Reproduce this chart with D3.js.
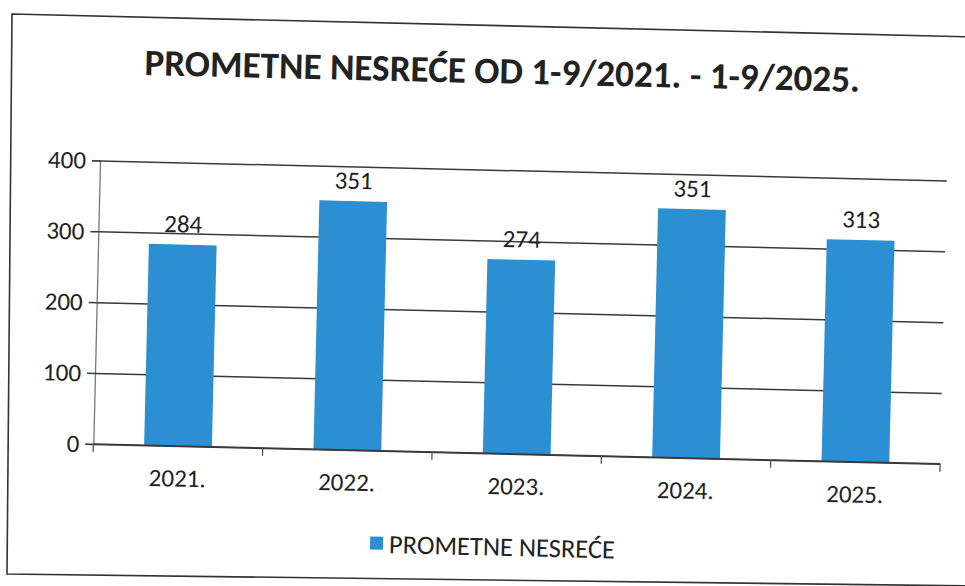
<!DOCTYPE html>
<html>
<head>
<meta charset="utf-8">
<script src="https://cdn.jsdelivr.net/npm/d3@7"></script>
<style>
  body { margin: 0; background: #fff; }
  svg { display: block; font-family: Carlito, Calibri, Lato, sans-serif; }
</style>
</head>
<body>
<svg id="chart" width="965" height="586"></svg>
<script>
// data
const years = ["2021.", "2022.", "2023.", "2024.", "2025."];
const accidents = [284, 351, 274, 351, 313];
const yTicks = [0, 100, 200, 300, 400];
const titleText = "PROMETNE NESREĆE OD 1-9/2021. - 1-9/2025.";
const seriesName = "PROMETNE NESREĆE";

const blue = "#2b8fd1";
const gridColor = "#3a3a3a";
const labelSize = 25;

const svg = d3.select("#chart");

// outer frame of the scanned page (a bit skewed, so drawn as a path)
svg.append("path")
    .attr("d", "M975,37 L12,14 L7,574 L975,586")
    .attr("fill", "none")
    .attr("stroke", "#333")
    .attr("stroke-width", 1.6);

// the scan is tilted a little clockwise, so draw flat and rotate the whole thing
const page = svg.append("g")
    .attr("transform", "rotate(1.35, 482, 293)");

const margin = {top: 169.5, right: 21, bottom: 133, left: 97};
const width = 965, height = 586;

const x = d3.scaleBand()
    .domain(years)
    .range([margin.left, width - margin.right])
    .paddingInner(0.6)
    .paddingOuter(0.3);

// band edges for the category tick marks
const xEdges = d3.scaleLinear()
    .domain([0, years.length])
    .range([margin.left, width - margin.right]);

const y = d3.scaleLinear()
    .domain([0, 400])
    .range([height - margin.bottom, margin.top]);

// title
const title = page.append("text")
    .attr("x", 497)
    .attr("y", 83)
    .attr("text-anchor", "middle")
    .attr("font-weight", "bold")
    .attr("font-size", 36)
    .attr("fill", "#222")
    .text(titleText);
// fit to the width seen in the scan
const tw = title.node().getComputedTextLength();
title.attr("font-size", 36 * 716 / tw);

// gridlines + y labels
const yAxis = g => g
    .attr("transform", `translate(${margin.left},0)`)
    .call(d3.axisLeft(y).tickValues(yTicks).tickSize(8).tickPadding(6))
    .call(g => g.select(".domain").attr("stroke", "#777").attr("stroke-width", 1.3))
    .call(g => g.selectAll(".tick line").attr("stroke", gridColor).attr("stroke-width", 1.5))
    .call(g => g.selectAll(".tick").append("line")
        .attr("x2", width - margin.right - margin.left)
        .attr("stroke", gridColor)
        .attr("stroke-width", 1.5))
    .call(g => g.selectAll(".tick text")
        .attr("font-size", labelSize)
        .attr("font-family", "Carlito, Calibri, Lato, sans-serif")
        .attr("fill", "#222"));

page.append("g").call(yAxis);

// bars
page.append("g")
    .attr("fill", blue)
    .selectAll("rect")
    .data(accidents)
    .join("rect")
        .attr("x", (d, i) => x(years[i]))
        .attr("y", d => y(d))
        .attr("width", x.bandwidth())
        .attr("height", d => y(0) - y(d));

// value labels
page.append("g")
    .attr("text-anchor", "middle")
    .attr("font-size", labelSize)
    .attr("fill", "#222")
    .selectAll("text")
    .data(accidents)
    .join("text")
        .attr("x", (d, i) => x(years[i]) + x.bandwidth() / 2)
        .attr("y", d => y(d) - 21)
        .attr("dy", "0.35em")
        .text(d => d);

// x axis: baseline with ticks at category boundaries
const xAxisG = page.append("g")
    .attr("transform", `translate(0,${y(0)})`);
xAxisG.append("line")
    .attr("x1", margin.left).attr("x2", width - margin.right)
    .attr("stroke", gridColor).attr("stroke-width", 1.5);
xAxisG.selectAll("line.tk")
    .data(d3.range(years.length + 1))
    .join("line")
        .attr("class", "tk")
        .attr("x1", d => xEdges(d)).attr("x2", d => xEdges(d))
        .attr("y1", 0).attr("y2", 8)
        .attr("stroke", "#555").attr("stroke-width", 1.3);
xAxisG.selectAll("text")
    .data(years)
    .join("text")
        .attr("x", d => x(d) + x.bandwidth() / 2)
        .attr("y", 32)
        .attr("dy", "0.35em")
        .attr("text-anchor", "middle")
        .attr("font-size", labelSize)
        .attr("fill", "#222")
        .text(d => d);

// legend
const legend = page.append("g").attr("transform", "translate(376,546)");
legend.append("rect")
    .attr("x", 0).attr("y", -7)
    .attr("width", 13).attr("height", 13)
    .attr("fill", blue);
const lt = legend.append("text")
    .attr("x", 19)
    .attr("dy", "0.35em")
    .attr("font-size", 22)
    .attr("fill", "#222")
    .text(seriesName);
const lw = lt.node().getComputedTextLength();
lt.attr("font-size", 22 * 226 / lw);
</script>
</body>
</html>
